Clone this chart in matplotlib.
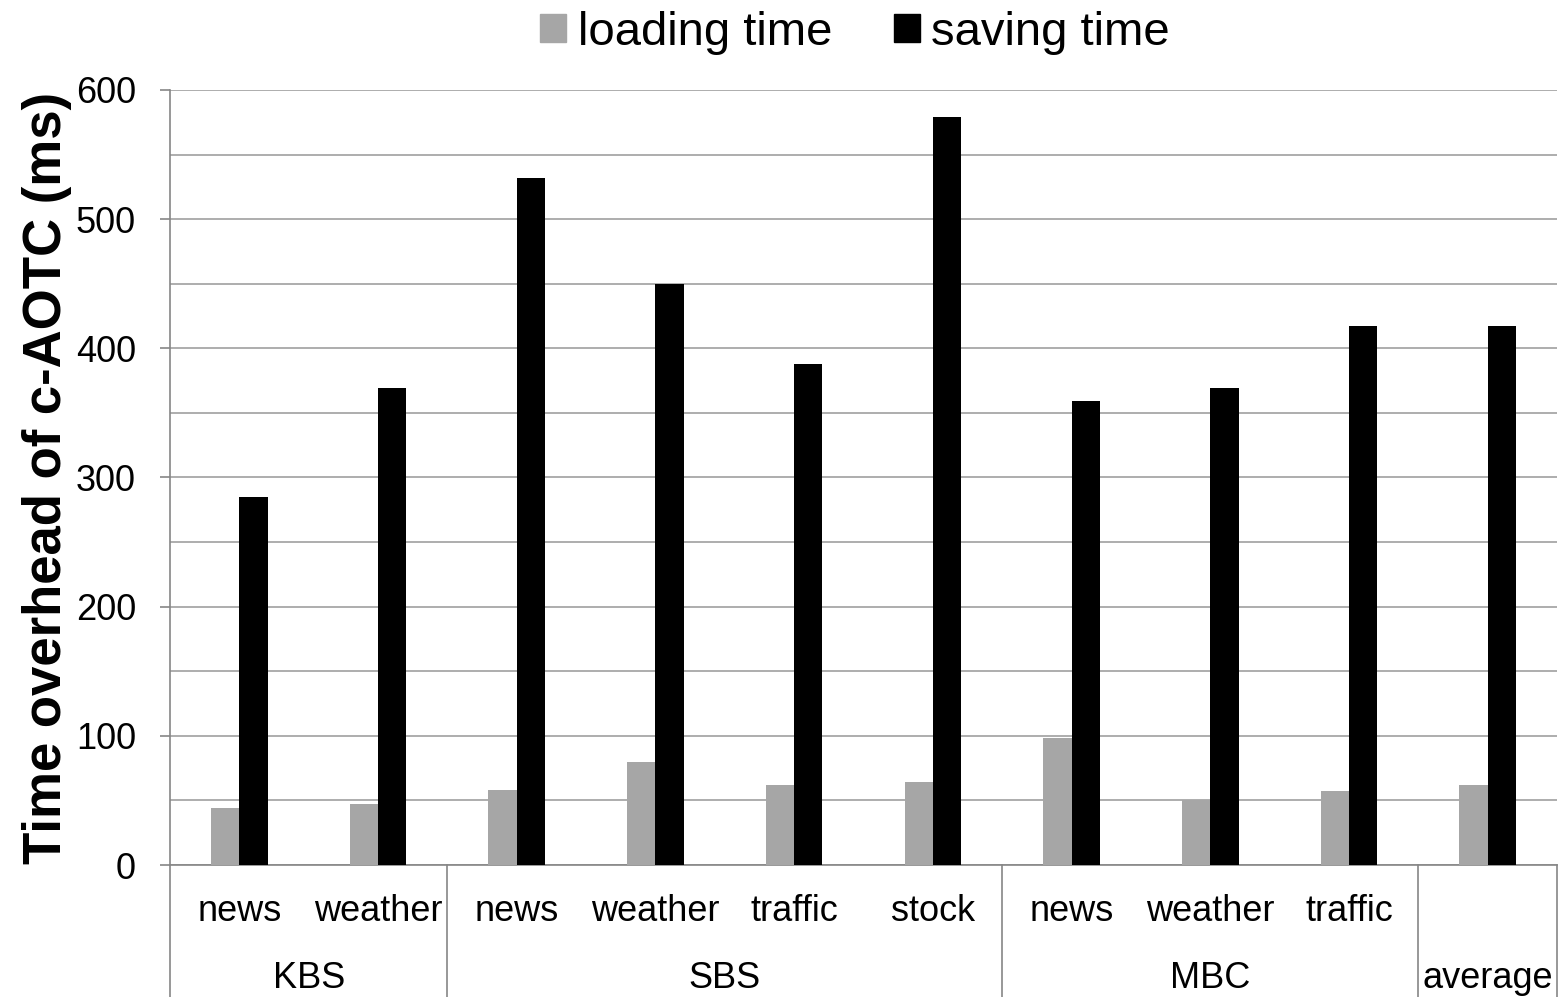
import matplotlib.pyplot as plt
from matplotlib.patches import Patch
from matplotlib.lines import Line2D
from matplotlib.transforms import blended_transform_factory
import numpy as np

plt.rcParams['font.family'] = ['Liberation Sans', 'DejaVu Sans']

subcats = ["news", "weather", "news", "weather", "traffic", "stock",
           "news", "weather", "traffic", ""]
groups = ["KBS", "SBS", "MBC", "average"]
group_sizes = [2, 4, 3, 1]
loading = [44, 47, 58, 80, 62, 64, 98, 50, 57, 62]
saving = [285, 369, 532, 450, 388, 579, 359, 369, 417, 417]

fig = plt.figure(figsize=(15.63, 9.97), dpi=100)
ax = fig.add_axes([170 / 1563, 1 - 865 / 997, (1557 - 170) / 1563, (865 - 90) / 997])

x = np.arange(len(subcats)) + 0.5
w = 0.204
ax.bar(x - w / 2, loading, w, color="#a6a6a6", zorder=3)
ax.bar(x + w / 2, saving, w, color="black", zorder=3)

ax.set_xlim(0, len(subcats))
ax.set_ylim(0, 600)
ax.set_yticks(range(0, 601, 100))
ax.set_yticks(range(50, 600, 100), minor=True)
ax.tick_params(axis="y", which="major", length=7.5, width=1.2, color="#868686",
               labelsize=26, pad=17)
ax.tick_params(axis="y", which="minor", length=0)
ax.set_xticks([])
ax.grid(axis="y", which="both", color="#a0a0a0", linewidth=1.2, zorder=0)
for s in ["top", "right"]:
    ax.spines[s].set_visible(False)
for s in ["left", "bottom"]:
    ax.spines[s].set_color("#868686")
    ax.spines[s].set_linewidth(1.2)

ax.set_ylabel("Time overhead of c-AOTC (ms)", fontsize=38, fontweight="bold", labelpad=3)

# two-level category axis below the plot
trans = blended_transform_factory(ax.transData, fig.transFigure)
for xi, lab in zip(x, subcats):
    ax.text(xi, 1 - 911 / 997, lab, transform=trans, ha="center", va="center", fontsize=26)
edges = np.concatenate([[0], np.cumsum(group_sizes)])
for i, g in enumerate(groups):
    ax.text((edges[i] + edges[i + 1]) / 2, 1 - 978 / 997, g, transform=trans,
            ha="center", va="center", fontsize=26)
for e in edges:
    ax.add_line(Line2D([e, e], [0, 1 - 865 / 997], transform=trans, color="#868686",
                       linewidth=1.2, clip_on=False))

handles = [Patch(color="#a6a6a6", label="loading time"),
           Patch(color="black", label="saving time")]
fig.legend(handles=handles, loc="center", bbox_to_anchor=(0.547, 0.967), ncol=2,
           frameon=False, fontsize=34, handlelength=0.55, handleheight=0.55,
           handletextpad=0.25, columnspacing=1.3)

fig.savefig("out.png", dpi=100)
